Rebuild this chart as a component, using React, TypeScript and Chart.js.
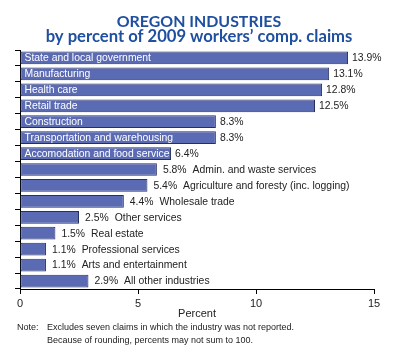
import React, { useEffect, useRef } from "react";
import { Chart, registerables } from "chart.js";

Chart.register(...registerables);

const categories = [
  "State and local government",
  "Manufacturing",
  "Health care",
  "Retail trade",
  "Construction",
  "Transportation and warehousing",
  "Accomodation and food service",
  "Admin. and waste services",
  "Agriculture and foresty (inc. logging)",
  "Wholesale trade",
  "Other services",
  "Real estate",
  "Professional services",
  "Arts and entertainment",
  "All other industries",
];
const values = [13.9, 13.1, 12.8, 12.5, 8.3, 8.3, 6.4, 5.8, 5.4, 4.4, 2.5, 1.5, 1.1, 1.1, 2.9];
const valueLabels = ["13.9%", "13.1%", "12.8%", "12.5%", "8.3%", "8.3%", "6.4%", "5.8%", "5.4%", "4.4%", "2.5%", "1.5%", "1.1%", "1.1%", "2.9%"];
const labelInside = [true, true, true, true, true, true, true, false, false, false, false, false, false, false, false];
const xTicks = [0, 5, 10, 15];
const titleLines = ["OREGON INDUSTRIES", "by percent of 2009 workers\u2019 comp. claims"];
const axisTitle = "Percent";
const noteLabel = "Note:";
const noteLines = [
  "Excludes seven claims in which the industry was not reported.",
  "Because of rounding, percents may not sum to 100.",
];

const FONT = "'Liberation Sans', Arial, sans-serif";
const TITLE_FONT = "'Lato', 'Open Sans', sans-serif";
const TITLE_WIDTHS = [157, 307];

const textPlugin = {
  id: "textPlugin",
  afterDraw(chart: any) {
    const ctx = chart.ctx as CanvasRenderingContext2D;
    const meta = chart.getDatasetMeta(0);
    ctx.save();
    // title
    ctx.fillStyle = "#1f50a0";
    ctx.textAlign = "center";
    ctx.textBaseline = "alphabetic";
    const baselines = [27, 42];
    const sizes = titleLines.map((line, i) => {
      ctx.font = `bold 100px ${TITLE_FONT}`;
      const w100 = ctx.measureText(line).width;
      return Math.min(18, (100 * TITLE_WIDTHS[i]) / w100);
    });
    const s1 = (sizes[0] + sizes[1]) / 2;
    [s1, sizes[1]].forEach((size, i) => {
      ctx.font = `bold ${size.toFixed(2)}px ${TITLE_FONT}`;
      ctx.fillText(titleLines[i], 199, baselines[i]);
    });

    // bar labels
    ctx.font = `10.4px ${FONT}`;
    ctx.textBaseline = "middle";
    ctx.textAlign = "left";
    meta.data.forEach((bar: any, i: number) => {
      const y = bar.y + 0.5;
      const left = bar.base;
      const right = bar.x;
      if (labelInside[i]) {
        ctx.fillStyle = "#ffffff";
        ctx.fillText(categories[i], left + 4, y);
        ctx.fillStyle = "#222222";
        ctx.fillText(valueLabels[i], right + 4, y);
      } else {
        ctx.fillStyle = "#222222";
        const vx = right + 6;
        ctx.fillText(valueLabels[i], vx, y);
        const w = ctx.measureText(valueLabels[i]).width;
        ctx.fillText(categories[i], vx + w + 6, y);
      }
    });

    // axis title
    ctx.fillStyle = "#222222";
    ctx.textAlign = "center";
    ctx.font = `11px ${FONT}`;
    const xs = chart.scales.x;
    ctx.fillText(axisTitle, (xs.left + xs.right) / 2, 314);

    // note
    ctx.textAlign = "left";
    ctx.font = `9px ${FONT}`;
    ctx.fillText(noteLabel, 17, 328);
    ctx.fillText(noteLines[0], 47, 328);
    ctx.fillText(noteLines[1], 47, 341);
    ctx.restore();
  },
};

export default function App() {
  const ref = useRef<HTMLCanvasElement>(null);
  useEffect(() => {
    if (!ref.current) return;
    const chart = new Chart(ref.current, {
      type: "bar",
      data: {
        labels: categories,
        datasets: [
          {
            data: values,
            backgroundColor: "#5a6ab3",
            borderColor: "#26305e",
            borderWidth: 1,
            borderSkipped: false,
            barPercentage: 0.8,
            categoryPercentage: 1,
          },
        ],
      },
      options: {
        responsive: false,
        animation: false,
        indexAxis: "y",
        layout: { padding: { top: 50, right: 26, left: 0, bottom: 0 } },
        plugins: {
          legend: { display: false },
          title: { display: false },
          tooltip: { enabled: false },
        },
        scales: {
          x: {
            min: 0,
            max: 15,
            afterBuildTicks: (s: any) => {
              s.ticks = xTicks.map((v) => ({ value: v }));
            },
            ticks: { font: { size: 11, family: FONT }, color: "#222", padding: 3, maxRotation: 0 },
            grid: { drawOnChartArea: false, drawTicks: true, tickLength: 5, color: "#000" },
            border: { color: "#000", width: 1 },
            afterFit: (s: any) => {
              s.height = 66;
            },
          },
          y: {
            ticks: { display: false },
            grid: { drawOnChartArea: false, drawTicks: true, tickLength: 5, color: "#000", offset: true },
            border: { color: "#000", width: 1 },
            afterFit: (s: any) => {
              s.width = 20;
            },
          },
        },
      },
      plugins: [textPlugin],
    } as any);
    return () => chart.destroy();
  }, []);
  return (
    <div style={{ position: "absolute", left: 0, top: 0, width: 400, height: 355, background: "#fff" }}>
      <canvas ref={ref} width={400} height={355} style={{ display: "block" }} />
    </div>
  );
}
